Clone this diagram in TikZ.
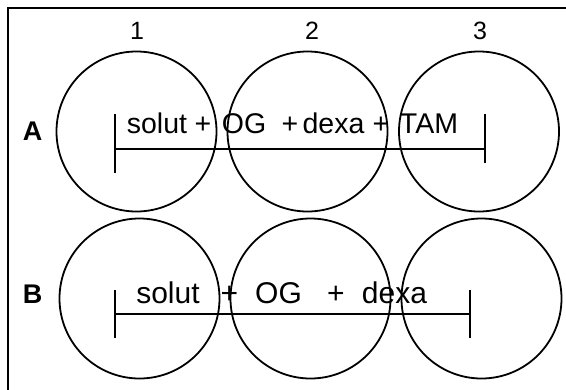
\documentclass[tikz,border=0pt]{standalone}
\usepackage{fontspec}
\setmainfont{Liberation Sans}
\begin{document}
\begin{tikzpicture}[x=1pt,y=-1pt,
  well/.style={circle,draw,line width=1.8pt,minimum size=160pt,inner sep=0pt},
  frameline/.style={line width=2.8pt},
  bar/.style={line width=1.8pt},
  collabel/.style={inner sep=0pt,anchor=base,font=\fontsize{25}{28}\selectfont},
  rowlabel/.style={inner sep=0pt,anchor=base,font=\fontsize{27}{30}\selectfont\bfseries},
  txta/.style={inner sep=0pt,anchor=base,font=\fontsize{28.5}{32}\selectfont},
  txtb/.style={inner sep=0pt,anchor=base,font=\fontsize{30}{34}\selectfont}]
\useasboundingbox (0,0) rectangle (566,389);
\clip (0,0) rectangle (566,389);

% plate outline (only top and left edges fall inside the page)
\draw[frameline] (8,8) rectangle (620,440);

% wells, row A
\node[well] (a1) at (136.5,131.5) {};
\node[well] (a2) at (307.5,131.5) {};
\node[well] (a3) at (479,131.5) {};
% wells, row B
\node[well] (b1) at (139.5,298.5) {};
\node[well] (b2) at (310.5,298.5) {};
\node[well] (b3) at (481.5,298.5) {};

% column and row labels
\node[collabel] (c1) at (137,39) {1};
\node[collabel] (c2) at (312,39) {2};
\node[collabel] (c3) at (480,39) {3};
\node[rowlabel] (rA) at (32.5,140.5) {A};
\node[rowlabel] (rB) at (32.5,303) {B};

% treatment span, row A
\coordinate (aL) at (115,149);
\coordinate (aR) at (485,149);
\coordinate (aLt) at (115,114);
\coordinate (aLb) at (115,173);
\coordinate (aRt) at (485,114);
\coordinate (aRb) at (485,163);
\draw[bar] (aL) -- (aR);
\draw[bar] (aLt) -- (aLb);
\draw[bar] (aRt) -- (aRb);

\node[txta] (a-solut) at (157,133) {solut};
\node[txta] (a-p1) at (203,133) {+};
\node[txta] (a-og) at (244,133) {OG};
\node[txta] (a-p2) at (290,133) {+};
\node[txta] (a-dexa) at (333.5,133) {dexa};
\node[txta] (a-p3) at (381,133) {+};
\node[txta] (a-tam) at (429,133) {TAM};

% treatment span, row B
\coordinate (bL) at (115,314);
\coordinate (bR) at (470,314);
\coordinate (bLt) at (115,290);
\coordinate (bLb) at (115,338);
\coordinate (bRt) at (470,290);
\coordinate (bRb) at (470,338);
\draw[bar] (bL) -- (bR);
\draw[bar] (bLt) -- (bLb);
\draw[bar] (bRt) -- (bRb);

\node[txtb] (b-solut) at (168,303) {solut};
\node[txtb] (b-p1) at (229.5,303) {+};
\node[txtb] (b-og) at (278.5,303) {OG};
\node[txtb] (b-p2) at (336,303) {+};
\node[txtb] (b-dexa) at (394.5,303) {dexa};
\end{tikzpicture}
\end{document}
